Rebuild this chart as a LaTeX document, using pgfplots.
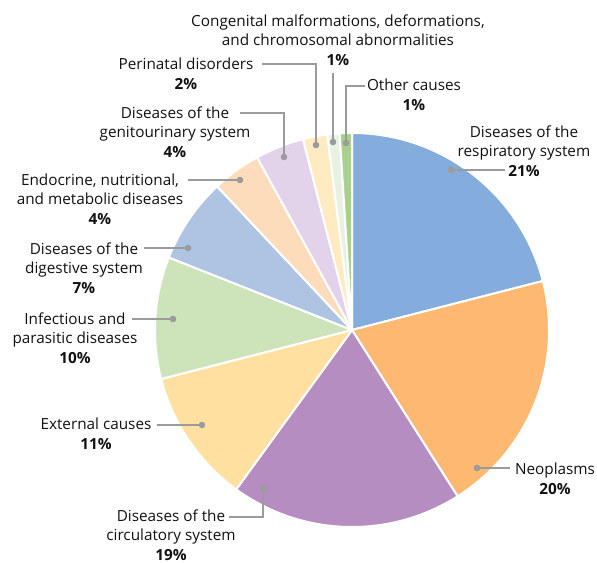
\documentclass[border=0pt]{standalone}
\usepackage{pgfplots}
\pgfplotsset{compat=1.18}
\usepackage{fontspec}
\setmainfont{Open Sans}
\definecolor{cResp}{HTML}{84ACDD}
\definecolor{cNeo}{HTML}{FDB871}
\definecolor{cCirc}{HTML}{B68DC0}
\definecolor{cExt}{HTML}{FFE0A0}
\definecolor{cInf}{HTML}{CDE4BB}
\definecolor{cDig}{HTML}{AFC4E2}
\definecolor{cEnd}{HTML}{FDDCBC}
\definecolor{cGen}{HTML}{E3D3EA}
\definecolor{cPer}{HTML}{FFEBC2}
\definecolor{cCon}{HTML}{E8F2E2}
\definecolor{cOth}{HTML}{A9D18E}
\definecolor{lead}{HTML}{9B9B9B}
\definecolor{txt}{HTML}{111111}
\begin{document}
\begin{tikzpicture}
\begin{axis}[width=597bp,height=563bp,scale only axis,
  xmin=0,xmax=597,ymin=0,ymax=563,hide axis,clip=false]
\path (axis cs:0,0) rectangle (axis cs:597,563);
% shares in percent, clockwise from 12 o'clock
\pgfmathsetmacro\cum{0}
\pgfplotsforeachungrouped \v/\c in {21/cResp,20/cNeo,19/cCirc,11/cExt,10/cInf,7/cDig,4/cEnd,4/cGen,2/cPer,1/cCon,1/cOth}{%
  \pgfmathsetmacro\a{90-3.6*\cum}%
  \pgfmathsetmacro\b{90-3.6*(\cum+\v)}%
  \edef\doplot{\noexpand\addplot[fill=\c,draw=white,line width=2bp,line join=round,domain=\b:\a,samples=90,variable=\noexpand\t]
    ({352+197*cos(\noexpand\t)},{233+197*sin(\noexpand\t)}) -- (axis cs:352,233) -- cycle;}%
  \doplot
  \pgfmathsetmacro\cum{\cum+\v}%
}
\tikzset{lbl/.style={align=center,font=\fontsize{15.3bp}{19.5bp}\selectfont,inner sep=0pt,text=txt},
  ld/.style={draw=lead,line width=2.2bp}}
% leaders
\draw[ld] (axis cs:451,393) -- (axis cs:505,393); \fill[lead] (axis cs:451,393) circle (3.3bp);
\draw[ld] (axis cs:477,95) -- (axis cs:510,95); \fill[lead] (axis cs:477,95) circle (3.3bp);
\draw[ld] (axis cs:229,46) -- (axis cs:263,46) -- (axis cs:263,75); \fill[lead] (axis cs:263,75) circle (3.3bp);
\draw[ld] (axis cs:157,138) -- (axis cs:202,138); \fill[lead] (axis cs:202,138) circle (3.3bp);
\draw[ld] (axis cs:132,244) -- (axis cs:173,244); \fill[lead] (axis cs:173,244) circle (3.3bp);
\draw[ld] (axis cs:144,315) -- (axis cs:188,315); \fill[lead] (axis cs:188,315) circle (3.3bp);
\draw[ld] (axis cs:188,383) -- (axis cs:240,383); \fill[lead] (axis cs:240,383) circle (3.3bp);
\draw[ld] (axis cs:240,450) -- (axis cs:284,450) -- (axis cs:284,406); \fill[lead] (axis cs:284,406) circle (3.3bp);
\draw[ld] (axis cs:262,499) -- (axis cs:316,499) -- (axis cs:316,418); \fill[lead] (axis cs:316,418) circle (3.3bp);
\draw[ld] (axis cs:333,490) -- (axis cs:333,421); \fill[lead] (axis cs:333,421) circle (3.3bp);
\draw[ld] (axis cs:365,477) -- (axis cs:346,477) -- (axis cs:346,420); \fill[lead] (axis cs:346,420) circle (3.3bp);
% labels
\node[lbl] at (axis cs:524,412) {Diseases of the\\respiratory system\\\textbf{21\%}};
\node[lbl] at (axis cs:555,84) {Neoplasms\\\textbf{20\%}};
\node[lbl] at (axis cs:171,28) {Diseases of the\\circulatory system\\\textbf{19\%}};
\node[lbl] at (axis cs:96,129) {External causes\\\textbf{11\%}};
\node[lbl] at (axis cs:75,225) {Infectious and\\parasitic diseases\\\textbf{10\%}};
\node[lbl] at (axis cs:84,295) {Diseases of the\\digestive system\\\textbf{7\%}};
\node[lbl] at (axis cs:100,364) {Endocrine, nutritional,\\and metabolic diseases\\\textbf{4\%}};
\node[lbl] at (axis cs:175,431) {Diseases of the\\genitourinary system\\\textbf{4\%}};
\node[lbl] at (axis cs:186,489) {Perinatal disorders\\\textbf{2\%}};
\node[lbl] at (axis cs:338,523) {Congenital malformations, deformations,\\and chromosomal abnormalities\\\textbf{1\%}};
\node[lbl] at (axis cs:414,468) {Other causes\\\textbf{1\%}};
\end{axis}
\end{tikzpicture}
\end{document}
